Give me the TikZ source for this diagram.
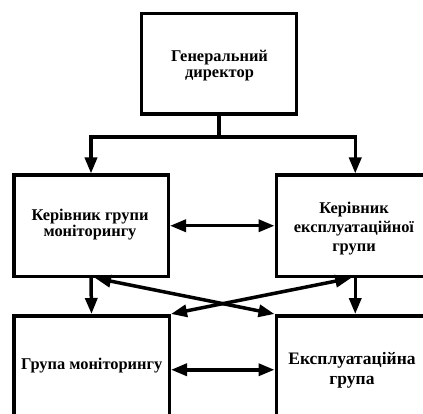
\documentclass[tikz,border=0pt]{standalone}
\usepackage{fontspec}
\setmainfont{Liberation Serif}
\usetikzlibrary{arrows.meta,calc}
\begin{document}
\begin{tikzpicture}[x=1pt,y=-1pt,
  box/.style={draw,line width=3.5pt,rectangle,inner sep=0pt,anchor=north west},
  lbl/.style={align=center,inner sep=0pt,font=\bfseries\fontsize{16.4}{16}\selectfont},
  conn/.style={line width=3.5pt},
  tip/.style={-{Triangle[length=16pt,width=12pt]}},
  dtip/.style={{Triangle[length=16pt,width=12pt]}-{Triangle[length=16pt,width=12pt]}}]
\useasboundingbox (0,0) rectangle (423,414);
\clip (0,0) rectangle (423,414);
% boxes
\node[box,minimum width=155pt,minimum height=100.5pt] (gd) at (139.5,12) {};
\node[box,minimum width=154.5pt,minimum height=101pt] (kmon) at (12,173.5) {};
\node[box,minimum width=158pt,minimum height=101pt] (kexp) at (274.5,173.5) {};
\node[box,minimum width=155.5pt,minimum height=108pt] (gmon) at (12,314) {};
\node[box,minimum width=158pt,minimum height=108pt] (gexp) at (274.5,314) {};
% texts
\node[lbl] (tgd) at (219.5,65.5) {Генеральний\\директор};
\node[lbl] (tkmon) at (90,225) {Керівник групи\\моніторингу};
\node[lbl,font=\bfseries\fontsize{16.4}{19}\selectfont] (tkexp) at (354,229) {Керівник\\експлуатаційної\\групи};
\node[lbl] (tgmon) at (91.7,366) {Група моніторингу};
\node[lbl,font=\bfseries\fontsize{17.5}{20}\selectfont] (tgexp) at (352,370) {Експлуатаційна\\група};
% connectors
\coordinate (j) at ($(gd.south)+(0,21)$);
\draw[conn] (gd.south) -- (j);
\draw[conn,tip] (j) -| (kmon.north);
\draw[conn,tip] (j) -| (kexp.north);
\draw[conn,dtip] (kmon.east) -- (kexp.west);
\draw[conn,tip] (kmon.south) -- (gmon.north);
\draw[conn,tip] (kexp.south) -- (gexp.north);
\draw[conn,dtip] ($(kmon.south)+(4,0)$) -- (gexp.north west);
\draw[conn,dtip] ($(kexp.south)+(-4,0)$) -- (gmon.north east);
\draw[conn,dtip] (gmon.east) -- (gexp.west);
\end{tikzpicture}
\end{document}
